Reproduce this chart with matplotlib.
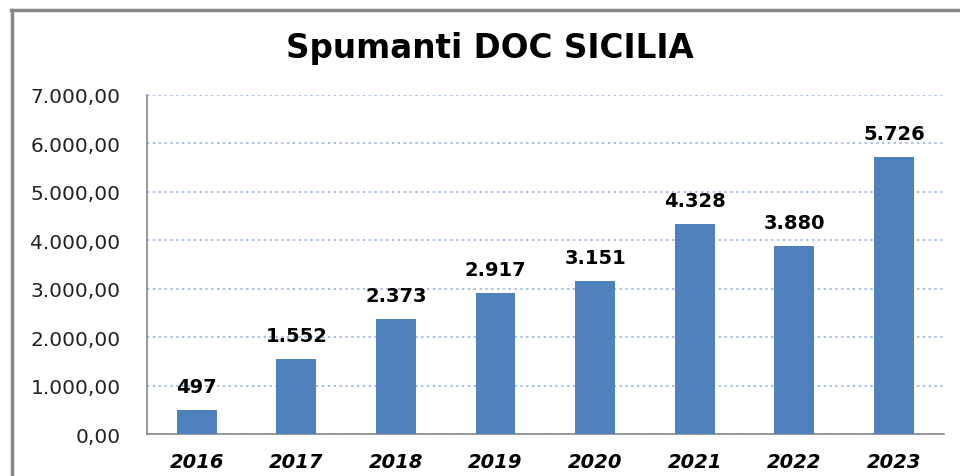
import matplotlib.pyplot as plt
from matplotlib.lines import Line2D

anni = ['2016', '2017', '2018', '2019', '2020', '2021', '2022', '2023']
valori = [497, 1552, 2373, 2917, 3151, 4328, 3880, 5726]
y_ticks = [0, 1000, 2000, 3000, 4000, 5000, 6000, 7000]


def fmt_it(v, dec=0):
    s = f"{v:,.{dec}f}"
    return s.replace(',', 'X').replace('.', ',').replace('X', '.')


fig = plt.figure(figsize=(9.6, 4.77), dpi=100)
ax = fig.add_axes([0.153, 0.088, 0.83, 0.711])

x = range(len(anni))
ax.bar(x, valori, width=0.4, color='#4F81BD', zorder=3)
for i, v in zip(x, valori):
    ax.annotate(fmt_it(v), (i, v), xytext=(0, 10), textcoords='offset points',
                ha='center', va='bottom', fontsize=14, fontweight='bold')

ax.set_xlim(-0.5, len(anni) - 0.5)
ax.set_ylim(0, 7000)
ax.set_yticks(y_ticks)
ax.set_yticklabels([fmt_it(t, 2) for t in y_ticks], fontsize=14.5, color='#222222')
ax.set_xticks(list(x))
ax.set_xticklabels(anni, fontsize=14, fontweight='bold', fontstyle='italic')
ax.tick_params(axis='y', length=0, pad=19)
ax.tick_params(axis='x', length=0, pad=13)

ax.yaxis.grid(True, linestyle=(0, (1.2, 1.8)), color='#A8BEE8', linewidth=1.4, zorder=0)
for s in ['top', 'right']:
    ax.spines[s].set_visible(False)
for s in ['left', 'bottom']:
    ax.spines[s].set_color('#888888')
    ax.spines[s].set_linewidth(1.2)

fig.text(0.51, 0.898, 'Spumanti DOC SICILIA', ha='center', va='center',
         fontsize=23.5, fontweight='bold')

# cornice del grafico
fig.add_artist(Line2D([0.012, 0.012], [0, 0.977], color='#888888', linewidth=2.5))
fig.add_artist(Line2D([0.011, 1.0], [0.977, 0.977], color='#888888', linewidth=2.5))

fig.savefig('out.png', dpi=100)
